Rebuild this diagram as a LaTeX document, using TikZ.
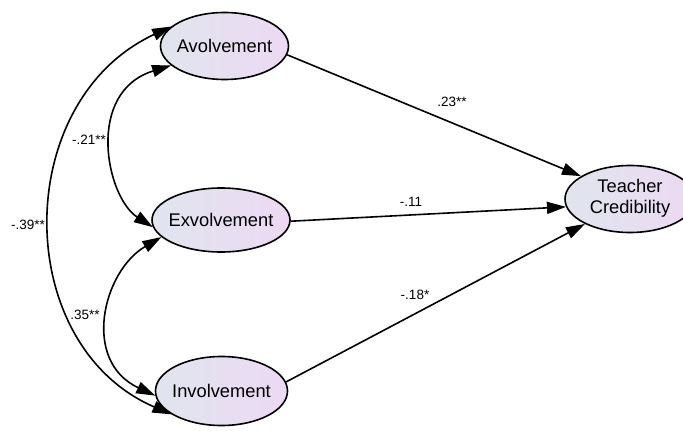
\documentclass[tikz,border=0pt]{standalone}
\usepackage{fontspec}
\setmainfont{Liberation Sans}
\usetikzlibrary{shapes.geometric,arrows.meta}
\definecolor{shadeL}{RGB}{224,229,238}
\definecolor{shadeR}{RGB}{237,217,243}
\tikzset{
  latent/.style={ellipse, draw=black, line width=1.6pt, left color=shadeL, right color=shadeR,
    minimum width=130pt, minimum height=66pt, inner sep=0pt,
    font=\fontsize{18.3}{21}\selectfont},
  path/.style={line width=1.6pt, -{Triangle[length=19pt,width=12pt]}},
  cov/.style={line width=1.6pt, {Triangle[length=19pt,width=12pt]}-{Triangle[length=19pt,width=12pt]}},
  coef/.style={font=\fontsize{13.5}{15}\selectfont, inner sep=0pt}
}
\begin{document}
\begin{tikzpicture}[x=1pt,y=-1pt]
\useasboundingbox (0,0) rectangle (683,431);
\node[latent, minimum width=128pt, minimum height=67pt] (Av) at (224.5,46) {\makebox[0pt]{Avolvement}};
\node[latent, minimum width=138pt, minimum height=64pt] (Ex) at (221,220) {\makebox[0pt]{Exvolvement}};
\node[latent, minimum width=132pt, minimum height=69pt] (In) at (221.5,391) {\makebox[0pt]{Involvement}};
\node[latent, minimum width=130pt, minimum height=67pt] (TC) at (630,199) {\makebox[0pt]{\begin{tabular}{@{}c@{}}Teacher\\Credibility\end{tabular}}};

\node[coef] (l1) at (452,102) {.23**};
\node[coef] (l2) at (411,202) {-.11};
\node[coef] (l3) at (415,295) {-.18*};
\node[coef] (l4) at (89,140) {-.21**};
\node[coef] (l5) at (28,225) {-.39**};
\node[coef] (l6) at (85,315) {.35**};

\draw[path] (Av.-8) -- (TC.155);
\draw[path] (Ex.-1) -- (TC.187);
\draw[path] (In.8) -- (TC.209);

\draw[cov] (Av.160) .. controls (11,101) and (11,345) .. (In.205);
\draw[cov] (Av.200) .. controls (85,92) and (106,197) .. (Ex.186);
\draw[cov] (Ex.196) .. controls (103,271) and (81,361) .. (In.184);
\end{tikzpicture}
\end{document}
